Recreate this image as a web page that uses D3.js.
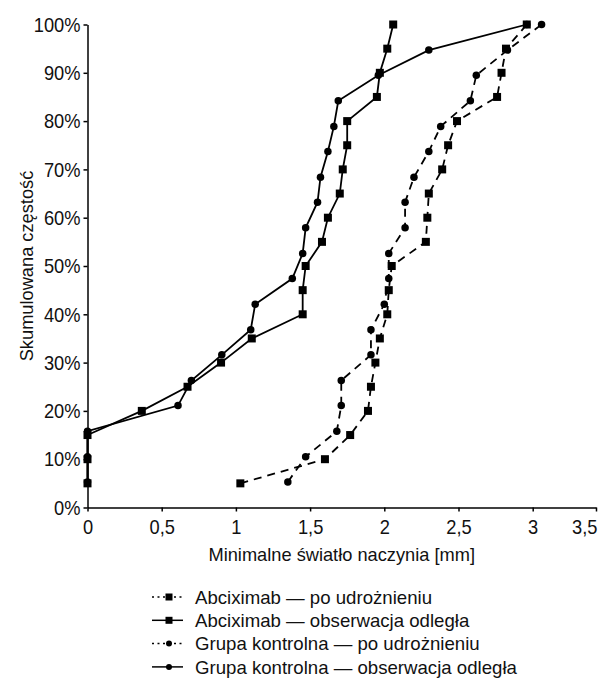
<!DOCTYPE html>
<html>
<head>
<meta charset="utf-8">
<script src="https://cdn.jsdelivr.net/npm/d3@7/dist/d3.min.js"></script>
<style>
  body { margin: 0; background: #fff; }
  svg { display: block; font-family: "Liberation Sans", Arial, sans-serif; }
</style>
</head>
<body>
<div id="chart"></div>
<script>
// cumulative frequency (%) for each group
const abxFreq = [5, 10, 15, 20, 25, 30, 35, 40, 45, 50, 55, 60, 65, 70, 75, 80, 85, 90, 95, 100];
const ctrlFreq = [5.3, 10.5, 15.8, 21.1, 26.3, 31.6, 36.8, 42.1, 47.4, 52.6, 57.9, 63.2, 68.4, 73.7, 78.9, 84.2, 89.5, 94.7, 100];

// minimal lumen diameter [mm]
const abxAfter = [1.03, 1.60, 1.77, 1.89, 1.91, 1.94, 1.97, 2.02, 2.03, 2.05, 2.28, 2.29, 2.30, 2.39, 2.43, 2.49, 2.76, 2.79, 2.82, 2.96];
const abxLate = [0, 0, 0, 0.366, 0.674, 0.90, 1.107, 1.45, 1.45, 1.47, 1.58, 1.62, 1.70, 1.72, 1.75, 1.75, 1.95, 1.97, 2.02, 2.06];
const ctrlAfter = [1.35, 1.47, 1.68, 1.71, 1.71, 1.91, 1.91, 2.00, 2.03, 2.03, 2.14, 2.14, 2.20, 2.30, 2.38, 2.58, 2.62, 2.83, 3.07];
const ctrlLate = [0, 0, 0, 0.61, 0.70, 0.905, 1.10, 1.13, 1.38, 1.45, 1.47, 1.55, 1.57, 1.62, 1.66, 1.69, 1.96, 2.30, 2.96];

const xTicks = [0, 0.5, 1, 1.5, 2, 2.5, 3, 3.5];
const yTicks = [0, 10, 20, 30, 40, 50, 60, 70, 80, 90, 100];

const seriesNames = [
  'Abciximab \u2014 po udro\u017cnieniu',
  'Abciximab \u2014 obserwacja odleg\u0142a',
  'Grupa kontrolna \u2014 po udro\u017cnieniu',
  'Grupa kontrolna \u2014 obserwacja odleg\u0142a'
];

const series = [
  { name: seriesNames[0], xs: abxAfter, ys: abxFreq, marker: 'square', dashed: true },
  { name: seriesNames[1], xs: abxLate, ys: abxFreq, marker: 'square', dashed: false },
  { name: seriesNames[2], xs: ctrlAfter, ys: ctrlFreq, marker: 'circle', dashed: true },
  { name: seriesNames[3], xs: ctrlLate, ys: ctrlFreq, marker: 'circle', dashed: false }
];

const width = 601, height = 684;

const svg = d3.select('#chart').append('svg')
  .attr('width', width)
  .attr('height', height);

// squeeze text horizontally (the source face is a bit narrow)
function condense(sel, k) {
  sel.each(function() {
    const w = this.getComputedTextLength();
    d3.select(this)
      .attr('textLength', w * k)
      .attr('lengthAdjust', 'spacingAndGlyphs');
  });
}

// the last axis step in the source is narrower than the others
const x = d3.scaleLinear().domain([0, 3, 3.5]).range([87.5, 532.7, 596]);
const y = d3.scaleLinear().domain([0, 100]).range([507.5, 24.5]);

const fmtX = d => String(d).replace('.', ',');

const xAxis = svg.append('g')
  .attr('transform', `translate(0,${y(0)})`)
  .call(d3.axisBottom(x).tickValues(xTicks).tickFormat(fmtX).tickSize(4).tickSizeOuter(0).tickPadding(8));

const yAxis = svg.append('g')
  .attr('transform', `translate(${x(0)},0)`)
  .call(d3.axisLeft(y).tickValues(yTicks).tickFormat(d => d + '%').tickSize(4).tickSizeOuter(0).tickPadding(3));

[xAxis, yAxis].forEach(a => {
  a.attr('font-family', null);
  a.selectAll('path, line').attr('stroke', '#000').attr('stroke-width', 1.5);
  a.selectAll('text').attr('fill', '#111').attr('font-size', 21).call(condense, 0.87);
});
// keep the last label inside the frame
xAxis.selectAll('.tick text').filter(d => d === 3.5)
  .attr('text-anchor', 'end').attr('x', 1);

svg.append('text')
  .attr('transform', `translate(33,${(y(0) + y(100)) / 2}) rotate(-90)`)
  .attr('text-anchor', 'middle')
  .attr('font-size', 19)
  .attr('fill', '#111')
  .text('Skumulowana cz\u0119sto\u015b\u0107')
  .call(condense, 0.96);

svg.append('text')
  .attr('x', (x(0) + x(3.5)) / 2)
  .attr('y', 561)
  .attr('text-anchor', 'middle')
  .attr('font-size', 19)
  .attr('fill', '#111')
  .text('Minimalne \u015bwiat\u0142o naczynia [mm]')
  .call(condense, 0.96);

const line = d3.line().x(d => x(d[0])).y(d => y(d[1]));

function drawMarkers(g, pts, kind, s) {
  if (kind === 'square') {
    g.selectAll('rect').data(pts).join('rect')
      .attr('x', d => x(d[0]) - s / 2)
      .attr('y', d => y(d[1]) - s / 2)
      .attr('width', s).attr('height', s)
      .attr('fill', '#000');
  } else {
    g.selectAll('circle').data(pts).join('circle')
      .attr('cx', d => x(d[0]))
      .attr('cy', d => y(d[1]))
      .attr('r', s / 2)
      .attr('fill', '#000');
  }
}

const plot = svg.append('g');
series.forEach(s => {
  const pts = s.xs.map((v, i) => [v, s.ys[i]]);
  const g = plot.append('g');
  g.append('path')
    .datum(pts)
    .attr('d', line)
    .attr('fill', 'none')
    .attr('stroke', '#000')
    .attr('stroke-width', 1.8)
    .attr('stroke-dasharray', s.dashed ? '8,6' : null);
  drawMarkers(g, pts, s.marker, s.marker === 'square' ? 8 : 7.5);
});

// legend
const legend = svg.append('g').attr('transform', 'translate(152,597)');
const rowH = 23.3;
series.forEach((s, i) => {
  const row = legend.append('g').attr('transform', `translate(0,${i * rowH})`);
  row.append('line')
    .attr('x1', 0).attr('x2', 31).attr('y1', 0).attr('y2', 0)
    .attr('stroke', '#000')
    .attr('stroke-width', 1.5)
    .attr('stroke-dasharray', s.dashed ? '2,3.5' : null);
  if (s.marker === 'square') {
    row.append('rect').attr('x', 13.5).attr('y', -3.5).attr('width', 7).attr('height', 7).attr('fill', '#000');
  } else {
    row.append('circle').attr('cx', 17).attr('cy', 0).attr('r', 3).attr('fill', '#000');
  }
  row.append('text')
    .attr('x', 43)
    .attr('dy', '0.35em')
    .attr('font-size', 19)
    .attr('fill', '#111')
    .text(s.name)
    .call(condense, 0.98);
});
</script>
</body>
</html>
